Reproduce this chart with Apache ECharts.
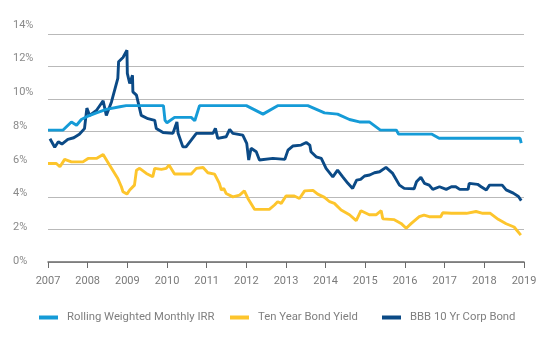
<!DOCTYPE html>
<html>
<head>
<meta charset="utf-8">
<script src="https://cdn.jsdelivr.net/npm/echarts@6/dist/echarts.min.js"></script>
<style>
html,body{margin:0;padding:0;background:#fff;}
#c{width:547px;height:350px;}
</style>
</head>
<body>
<div id="c"></div>
<script>
// ---- data (decimal year, percent) ----
var seriesNames = ['Rolling Weighted Monthly IRR', 'Ten Year Bond Yield', 'BBB 10 Yr Corp Bond'];
var yTicks = [0, 2, 4, 6, 8, 10, 12, 14];
var xYears = [2007, 2008, 2009, 2010, 2011, 2012, 2013, 2014, 2015, 2016, 2017, 2018, 2019];

var irrX = [2007.0, 2007.38, 2007.59, 2007.72, 2007.84, 2008.01, 2008.22, 2008.47, 2008.81, 2008.97, 2009.91, 2009.95, 2010.0, 2010.19, 2010.61, 2010.7, 2010.82, 2012.0, 2012.42, 2012.79, 2013.55, 2013.97, 2014.3, 2014.6, 2014.85, 2015.1, 2015.38, 2015.78, 2015.84, 2016.68, 2016.86, 2018.9, 2018.93];
var irrY = [8.1, 8.1, 8.6, 8.4, 8.75, 8.96, 9.16, 9.37, 9.53, 9.6, 9.6, 8.7, 8.55, 8.88, 8.88, 8.67, 9.6, 9.6, 9.08, 9.6, 9.6, 9.16, 9.08, 8.75, 8.6, 8.6, 8.1, 8.1, 7.85, 7.85, 7.6, 7.6, 7.3];

var bondX = [2007.0, 2007.21, 2007.3, 2007.42, 2007.59, 2007.88, 2008.01, 2008.22, 2008.39, 2008.55, 2008.76, 2008.85, 2008.89, 2008.99, 2009.06, 2009.18, 2009.23, 2009.31, 2009.48, 2009.64, 2009.69, 2009.86, 2009.98, 2010.05, 2010.19, 2010.61, 2010.74, 2010.91, 2011.03, 2011.2, 2011.32, 2011.37, 2011.43, 2011.49, 2011.66, 2011.83, 2011.95, 2012.04, 2012.21, 2012.58, 2012.71, 2012.79, 2012.88, 2013.0, 2013.21, 2013.34, 2013.47, 2013.68, 2013.8, 2013.97, 2014.1, 2014.22, 2014.39, 2014.6, 2014.77, 2014.89, 2015.1, 2015.27, 2015.4, 2015.44, 2015.73, 2015.9, 2016.03, 2016.16, 2016.36, 2016.48, 2016.61, 2016.9, 2016.95, 2017.17, 2017.55, 2017.79, 2017.96, 2018.15, 2018.35, 2018.55, 2018.75, 2018.92];
var bondY = [6.05, 6.05, 5.85, 6.3, 6.15, 6.15, 6.36, 6.36, 6.6, 5.95, 5.13, 4.62, 4.31, 4.17, 4.42, 4.72, 5.64, 5.75, 5.44, 5.23, 5.75, 5.69, 5.75, 5.95, 5.4, 5.4, 5.75, 5.8, 5.48, 5.4, 4.83, 4.42, 4.52, 4.21, 4.0, 4.11, 4.37, 3.9, 3.23, 3.23, 3.5, 3.7, 3.6, 4.05, 4.05, 3.9, 4.37, 4.4, 4.17, 3.97, 3.7, 3.6, 3.19, 2.9, 2.54, 3.15, 2.9, 2.9, 3.15, 2.65, 2.6, 2.37, 2.07, 2.37, 2.78, 2.88, 2.78, 2.78, 3.02, 2.99, 2.99, 3.1, 2.99, 2.99, 2.62, 2.35, 2.15, 1.65];

var bbbX = [2007.05, 2007.17, 2007.26, 2007.35, 2007.5, 2007.65, 2007.79, 2007.92, 2007.98, 2008.05, 2008.22, 2008.39, 2008.47, 2008.6, 2008.68, 2008.76, 2008.78, 2008.89, 2008.99, 2009.0, 2009.06, 2009.13, 2009.14, 2009.23, 2009.27, 2009.35, 2009.52, 2009.69, 2009.73, 2009.9, 2010.15, 2010.25, 2010.28, 2010.4, 2010.48, 2010.61, 2010.74, 2011.16, 2011.22, 2011.28, 2011.49, 2011.58, 2011.66, 2011.91, 2012.01, 2012.06, 2012.12, 2012.25, 2012.33, 2012.67, 2012.97, 2013.05, 2013.17, 2013.38, 2013.51, 2013.6, 2013.63, 2013.67, 2013.76, 2013.89, 2014.01, 2014.18, 2014.3, 2014.43, 2014.56, 2014.68, 2014.78, 2014.88, 2014.98, 2015.11, 2015.23, 2015.36, 2015.52, 2015.69, 2015.86, 2015.98, 2016.23, 2016.29, 2016.4, 2016.49, 2016.61, 2016.7, 2016.87, 2017.04, 2017.17, 2017.28, 2017.38, 2017.59, 2017.62, 2017.83, 2017.92, 2018.05, 2018.13, 2018.45, 2018.55, 2018.73, 2018.86, 2018.93];
var bbbY = [7.57, 7.05, 7.38, 7.24, 7.53, 7.63, 7.84, 8.19, 9.45, 9.0, 9.3, 9.9, 9.0, 9.83, 10.55, 11.27, 12.3, 12.56, 13.0, 11.58, 10.96, 11.47, 10.45, 10.25, 9.83, 9.0, 8.8, 8.7, 8.2, 7.95, 7.9, 8.6, 7.9, 7.07, 7.07, 7.48, 7.9, 7.9, 8.2, 7.59, 7.69, 8.14, 7.9, 7.79, 7.28, 6.26, 6.98, 6.77, 6.26, 6.36, 6.3, 6.87, 7.12, 7.18, 7.34, 7.18, 6.77, 6.87, 6.46, 6.36, 5.75, 5.23, 5.64, 5.23, 4.83, 4.52, 5.03, 5.07, 5.28, 5.34, 5.48, 5.54, 5.81, 5.44, 4.72, 4.52, 4.5, 4.93, 5.2, 4.83, 4.72, 4.46, 4.62, 4.46, 4.62, 4.62, 4.46, 4.46, 4.83, 4.77, 4.62, 4.42, 4.72, 4.72, 4.43, 4.23, 4.02, 3.77];

function zip(xs, ys) { return xs.map(function (x, i) { return [x, ys[i]]; }); }

var colors = ['#159bd7', '#fdc52c', '#0b4a86'];
var FONT = 'Roboto';
var legendLeft = [39, 230, 382];
function legendFor(i) {
  return {
    data: [seriesNames[i]],
    left: legendLeft[i], top: 312, padding: 0,
    icon: 'rect', itemWidth: 19, itemHeight: 4,
    textStyle: { color: '#7f7f7f', fontSize: 11.3, fontFamily: FONT, padding: [0, 0, 0, 4] }
  };
}
var chart = echarts.init(document.getElementById('c'), null, { renderer: 'canvas' });
chart.setOption({
  animation: false,
  backgroundColor: '#ffffff',
  color: colors,
  grid: [
    { left: 48, right: 23, top: 34, bottom: 88 },
    { left: 48, right: 23, top: 25, bottom: 89 }
  ],
  legend: [legendFor(0), legendFor(1), legendFor(2)],
  xAxis: [{
    type: 'value', gridIndex: 0,
    min: xYears[0], max: xYears[xYears.length - 1], interval: 1,
    axisLine: { show: true, lineStyle: { color: '#6b6b6b', width: 1.5 } },
    axisTick: { show: true, length: 6, lineStyle: { color: '#6b6b6b', width: 1 } },
    axisLabel: { color: '#7a7a7a', fontSize: 11, fontFamily: FONT, margin: 14,
      formatter: function (v) { return String(Math.round(v)); } },
    splitLine: { show: false }
  }, {
    type: 'value', gridIndex: 1, min: 0, max: 1, show: false
  }],
  yAxis: [{
    type: 'value', gridIndex: 0,
    min: yTicks[0], max: yTicks[yTicks.length - 1], interval: 2,
    axisLine: { show: false }, axisTick: { show: false },
    axisLabel: { show: false },
    splitLine: { show: true, lineStyle: { color: '#b9b9b9', width: 1 } }
  }, {
    type: 'value', gridIndex: 1,
    min: yTicks[0], max: yTicks[yTicks.length - 1], interval: 2,
    axisLine: { show: false }, axisTick: { show: false },
    splitLine: { show: false },
    axisLabel: { color: '#8a8a8a', fontSize: 11, fontFamily: FONT, align: 'left', margin: 35,
      formatter: '{value}%' }
  }],
  series: [
    { name: seriesNames[0], type: 'line', data: zip(irrX, irrY), showSymbol: false, symbol: 'none', z: 4,
      lineStyle: { width: 2.9, color: colors[0] } },
    { name: seriesNames[1], type: 'line', data: zip(bondX, bondY), showSymbol: false, symbol: 'none', z: 2,
      lineStyle: { width: 2.9, color: colors[1] } },
    { name: seriesNames[2], type: 'line', data: zip(bbbX, bbbY), showSymbol: false, symbol: 'none', z: 3,
      lineStyle: { width: 2.9, color: colors[2] } }
  ]
});
</script>
</body>
</html>
